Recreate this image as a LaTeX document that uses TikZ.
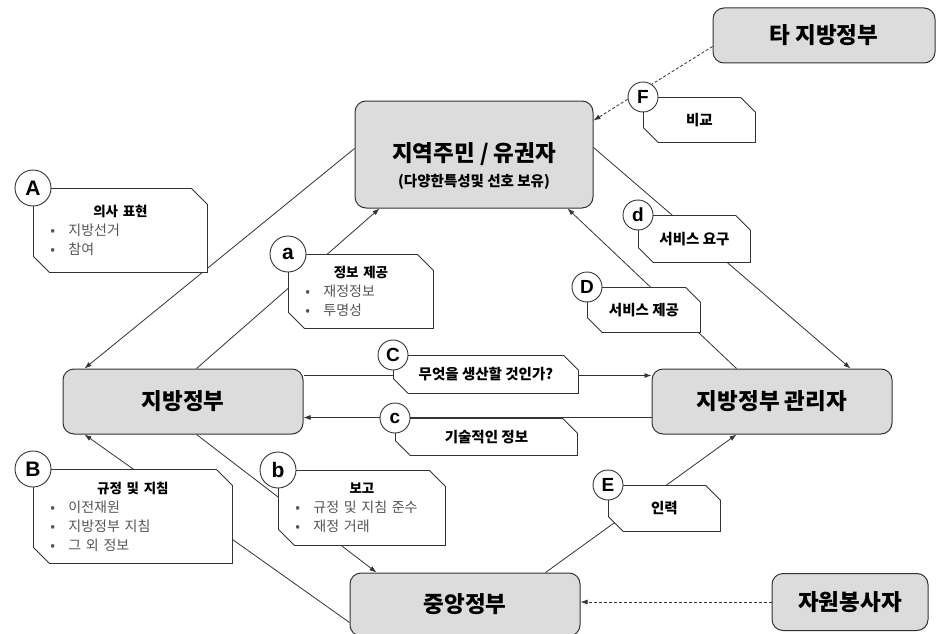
\documentclass[tikz,border=0pt]{standalone}
\usepackage{fontspec}
\setmainfont{Noto Sans CJK KR}
\newfontfamily\tagfont{Liberation Sans}
\usetikzlibrary{shapes.misc, arrows.meta}
\definecolor{boxgray}{HTML}{DCDCDC}
\definecolor{edge}{HTML}{333333}
\definecolor{bullgray}{HTML}{555555}
\newcommand{\bul}{\hspace*{9pt}\makebox[18pt][l]{•}}
\newcommand{\ttl}[1]{{\centering\bfseries\fontsize{13.5}{19}\selectfont #1\par}}
\tikzset{
  actor/.style={
    rectangle, rounded corners=11pt,
    draw=edge, line width=1pt, fill=boxgray,
    inner sep=0pt, font=\bfseries\fontsize{22.5}{26}\selectfont,
  },
  subline/.style={font=\bfseries\fontsize{14.5}{16}\selectfont, inner sep=0pt},
  note/.style={
    chamfered rectangle, chamfered rectangle corners={north east,south west},
    chamfered rectangle xsep=8pt, chamfered rectangle ysep=8pt,
    draw=edge, line width=0.9pt, fill=white,
    inner sep=0pt, anchor=north west, font=\fontsize{14}{19}\selectfont,
  },
  oneline/.style={note, font=\bfseries\fontsize{14.5}{16}\selectfont},
  tag/.style={
    circle, draw=edge, line width=0.9pt, fill=white,
    inner sep=0pt, minimum size=36pt, font=\tagfont\bfseries\fontsize{21}{21}\selectfont,
  },
  smalltag/.style={tag, minimum size=30pt, font=\tagfont\bfseries\fontsize{19}{19}\selectfont},
  link/.style={-{Latex[length=7pt,width=5pt]}, line width=0.8pt, draw=edge},
  hint/.style={link, dash pattern=on 3pt off 2pt},
}

\begin{document}
\begin{tikzpicture}[x=1pt,y=-1pt]
  \useasboundingbox (0,0) rectangle (945,634);
  \fill[white] (0,0) rectangle (945,634);
  % main actors
  \node[actor,minimum width=222pt,minimum height=55pt] (other) at (824,35.5) {타 지방정부};
  \node[actor,minimum width=238pt,minimum height=107pt,
    label={[subline,yshift=-27pt]center:(다양한특성및 선호 보유)}] (res) at (474,154.5) {지역주민 / 유권자};
  \node[actor,minimum width=240pt,minimum height=65pt] (local) at (183,401.5) {지방정부};
  \node[actor,minimum width=240pt,minimum height=65pt] (mgr) at (772,401.5) {지방정부 관리자};
  \node[actor,minimum width=230pt,minimum height=63pt] (central) at (465,604.5) {중앙정부};
  \node[actor,minimum width=156pt,minimum height=57pt] (vol) at (850,602) {자원봉사자};
  % connectors
  \draw[link] ([yshift=6pt]res.west) -- ([xshift=22pt]local.north west);
  \draw[link] ([xshift=134pt]local.north west) -- ([xshift=25pt]res.south west);
  \draw[link] ([yshift=7pt]res.east) -- ([xshift=-42pt]mgr.north east);
  \draw[link] ([xshift=85pt]mgr.north west) -- ([xshift=-26pt]res.south east);
  \draw[link] ([yshift=26pt]local.east) -- ([yshift=26pt]mgr.west);
  \draw[link] ([yshift=-16pt]mgr.west) -- ([yshift=-16pt]local.east);
  \draw[link] ([yshift=-18pt]central.west) -- ([xshift=22pt]local.south west);
  \draw[link] ([xshift=134pt]local.south west) -- ([xshift=27pt]central.north west);
  \draw[link,{Latex[length=7pt,width=5pt]}-] ([xshift=85pt]mgr.south west) -- ([xshift=-35pt]central.north east);
  \draw[hint] ([yshift=-11pt]other.west) -- ([yshift=34pt]res.east);
  \draw[hint] (vol.west) -- (central.east |- vol.west);
  % notes
  \node[note,minimum width=174pt,minimum height=84pt,text width=158pt] (nA) at (33,188)
    {\ttl{의사 표현}\color{bullgray}\bul 지방선거\par\bul 참여};
  \node[note,minimum width=145pt,minimum height=74pt,text width=129pt] (na) at (288,254)
    {\ttl{정보 제공}\color{bullgray}\bul 재정정보\par\bul 투명성};
  \node[note,minimum width=199pt,minimum height=94pt,text width=183pt] (nB) at (33,469)
    {\ttl{규정 및 지침}\color{bullgray}\bul 이전재원\par\bul 지방정부 지침\par\bul 그 외 정보};
  \node[note,minimum width=167pt,minimum height=75pt,text width=151pt] (nb) at (278,470)
    {\ttl{보고}\color{bullgray}\bul 규정 및 지침 준수\par\bul 재정 거래};
  \node[oneline,minimum width=185pt,minimum height=38pt] (nC) at (393,355) {무엇을 생산할 것인가?};
  \node[oneline,minimum width=182pt,minimum height=37pt] (nc) at (395,418) {기술적인 정보};
  \node[oneline,minimum width=112pt,minimum height=47pt] (nd) at (638,215) {서비스 요구};
  \node[oneline,minimum width=113pt,minimum height=45pt] (nD) at (587,287) {서비스 제공};
  \node[oneline,minimum width=112pt,minimum height=46pt] (nE) at (608,485) {인력};
  \node[oneline,minimum width=112pt,minimum height=45pt] (nF) at (643,97) {비교};
  % letter tags
  \node[tag] (tA) at (nA.north west) {A};
  \node[tag] (ta) at (na.north west) {a};
  \node[tag] (tB) at (nB.north west) {B};
  \node[tag] (tb) at (nb.north west) {b};
  \node[smalltag] (tC) at (nC.north west) {C};
  \node[smalltag] (tc) at (nc.north west) {c};
  \node[smalltag] (td) at (nd.north west) {d};
  \node[smalltag] (tD) at (nD.north west) {D};
  \node[smalltag] (tE) at (nE.north west) {E};
  \node[smalltag] (tF) at (nF.north west) {F};
\end{tikzpicture}
\end{document}
